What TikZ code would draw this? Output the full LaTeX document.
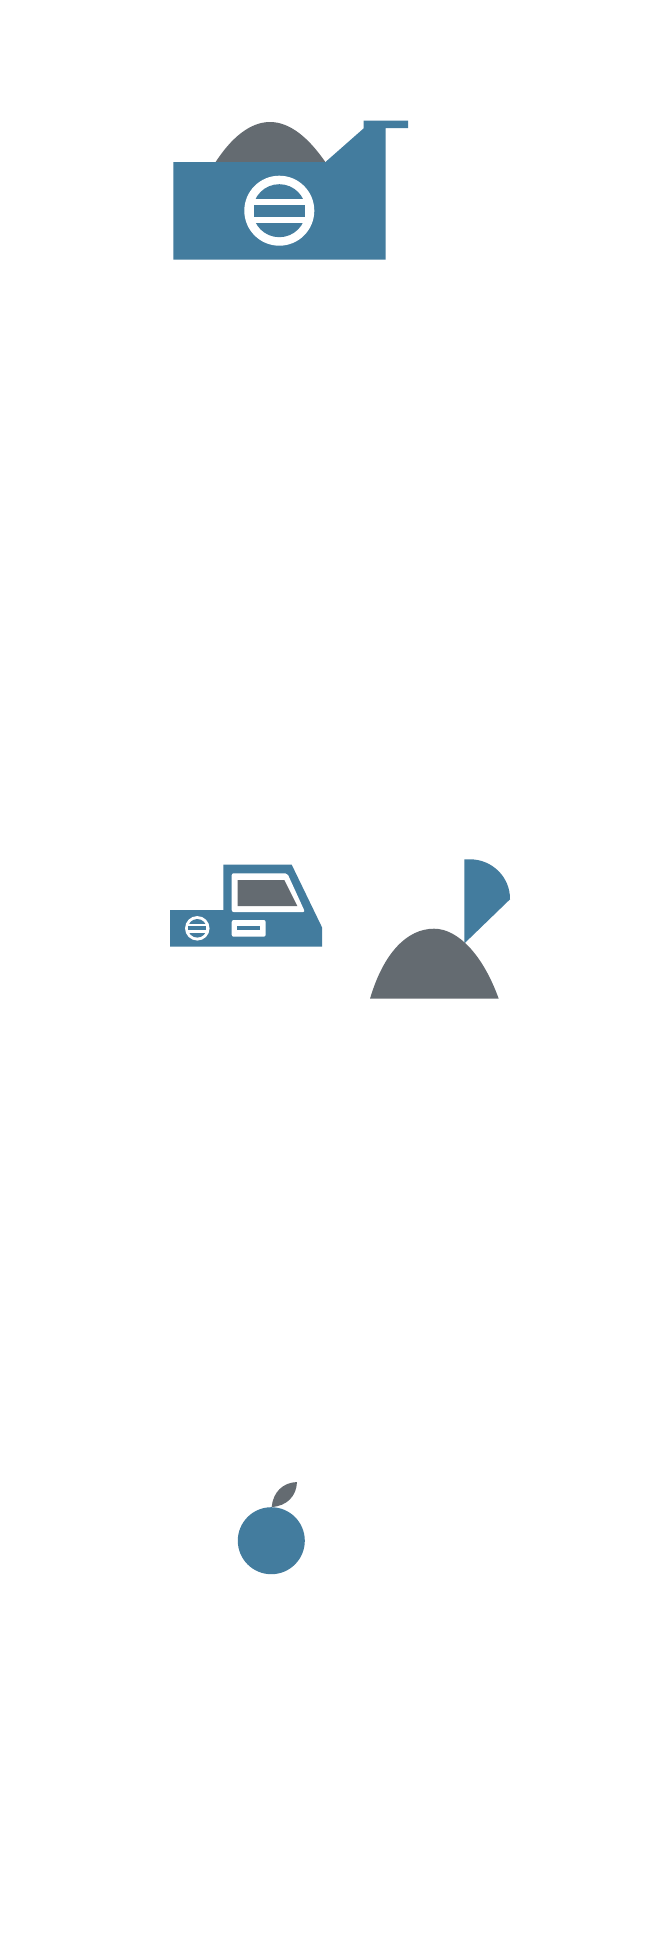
\documentclass[tikz,border=0pt]{standalone}
\usepackage{tikz}
\definecolor{reelblue}{HTML}{437C9E}
\definecolor{slategrey}{HTML}{646B71}
\tikzset{%
	blueshape/.style={fill=reelblue},
	greyshape/.style={fill=slategrey},
	cutout/.style={fill=white},
	reelmark/.pic={
		\fill[cutout] (0,0) circle[radius=35];
		\begin{scope}
			\clip (0,0) circle[radius=26.5];
			\fill[blueshape] (-30,-30) rectangle (30,-12);
			\fill[blueshape] (-30,12) rectangle (30,30);
		\end{scope}
		\fill[blueshape] (-25.8,-6) rectangle (25.8,6);
	}
}
\begin{document}
\begin{tikzpicture}[x=1pt, y=-1pt]
	\useasboundingbox[fill=white] (0,0) rectangle (670,1938);

	% dispenser
	\fill[greyshape] (215,163) .. controls (231,138) and (250,122) .. (270,122)
		.. controls (290,122) and (309,138) .. (326,163) -- cycle;
	\fill[blueshape] (173.3,162) -- (325.5,162) -- (363.5,128.5) -- (363.5,120.7) -- (408,120.7)
		-- (408,128) -- (385.5,128) -- (385.5,259.5) -- (173.3,259.5) -- cycle;
	\pic at (279.3,210.7) {reelmark};

	% register
	\fill[blueshape] (170,946.7) -- (170,910) -- (223.3,910) -- (223.3,864.7) -- (291.7,864.7)
		-- (322,927.3) -- (322,946.7) -- cycle;
	\fill[cutout, rounded corners=2pt] (231.7,873.3) -- (287.3,873.3) -- (305,912) -- (231.7,912) -- cycle;
	\fill[greyshape] (237.7,880) -- (284.3,880) -- (297.3,906) -- (237.7,906) -- cycle;
	\fill[cutout, rounded corners=2pt] (231.7,920) rectangle (265.7,936.7);
	\fill[blueshape] (237.3,926) rectangle (260,930);
	\pic[scale=.35] at (197.3,928.3) {reelmark};

	% hill with flag
	\fill[blueshape] (464.3,859.3) -- (470,859.3) .. controls (492,859.3) and (510.3,877) .. (510,899.3)
		-- (464.3,943.5) -- cycle;
	\fill[greyshape] (370,998.7) .. controls (383.5,953) and (407,928.7) .. (434,928.7)
		.. controls (458,928.7) and (483,955) .. (498.7,998.7) -- cycle;

	% fruit
	\fill[greyshape] (271.7,1507) .. controls (273,1492) and (283,1482.5) .. (297,1482)
		.. controls (296.5,1496) and (287,1506) .. (271.7,1507) -- cycle;
	\fill[blueshape] (271.3,1540.7) circle[radius=33.5];
\end{tikzpicture}
\end{document}
